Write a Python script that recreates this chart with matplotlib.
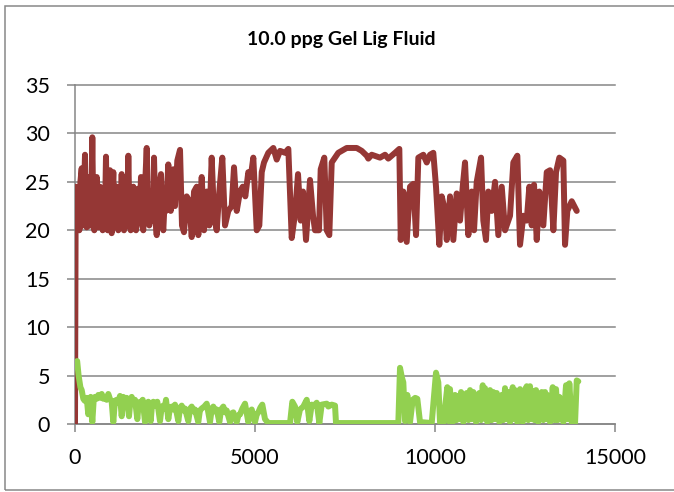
import matplotlib
matplotlib.use("Agg")
import matplotlib.pyplot as plt
from matplotlib.patches import Rectangle

plt.rcParams['font.family'] = ['Lato', 'DejaVu Sans']

title = "10.0 ppg Gel Lig Fluid"
x_ticks = [0, 5000, 10000, 15000]
y_ticks = [0, 5, 10, 15, 20, 25, 30, 35]

# red series (x, y)
red_x = [0, 20, 40, 60, 80, 100, 120, 150, 186, 215, 250, 278, 300, 325, 345, 369,
         390, 410, 436, 460, 481, 510, 536, 570, 603, 625, 647, 670, 694, 720, 745,
         769, 800, 830, 861, 885, 908, 940, 972, 995, 1019, 1040, 1064, 1090, 1111,
         1135, 1158, 1180, 1203, 1230, 1260, 1297, 1330, 1361, 1390, 1417, 1450, 1481,
         1515, 1547, 1585, 1620, 1660, 1695, 1725, 1758, 1795, 1833, 1865, 1897, 1940,
         1992, 2030, 2064, 2100, 2131, 2165, 2195, 2235, 2270, 2300, 2334, 2389, 2420,
         2453, 2490, 2528, 2592, 2659, 2731, 2778, 2842, 2917, 2972, 3028, 3103, 3175,
         3242, 3306, 3381, 3425, 3520, 3584, 3659, 3731, 3797, 3861, 3936, 4009, 4092,
         4167, 4259, 4353, 4417, 4492, 4584, 4659, 4731, 4814, 4881, 4953, 5048, 5120,
         5187, 5250, 5370, 5509, 5603, 5695, 5834, 5926, 6020, 6112, 6195, 6270, 6334,
         6417, 6528, 6612, 6667, 6778, 6825, 6925, 6992, 7064, 7131, 7314, 7548, 7825,
         7964, 8103, 8148, 8242, 8473, 8612, 8703, 8890, 9009, 9048, 9120, 9214, 9306,
         9398, 9473, 9537, 9676, 9770, 9862, 9953, 10028, 10120, 10187, 10279, 10326,
         10418, 10509, 10603, 10695, 10770, 10834, 10926, 11020, 11084, 11159, 11279,
         11342, 11417, 11481, 11576, 11668, 11759, 11854, 11945, 12084, 12176, 12287,
         12362, 12454, 12548, 12620, 12687, 12751, 12826, 12898, 13009, 13104, 13196,
         13288, 13362, 13454, 13565, 13612, 13676, 13798, 13937]
red_y = [0, 24.5, 20, 24, 20.2, 23.5, 20, 25, 26.4, 20.5, 24, 27.8, 21, 20.3, 24, 25.5,
         20.5, 23, 20.5, 24, 29.6, 21, 20, 24, 25.5, 20.5, 20.3, 23.5, 24.5, 20.5, 23,
         20, 24, 21, 27.6, 21, 20, 24, 26.2, 20.5, 19.7, 23.5, 26, 21, 20.5,
         24.5, 24.5, 20.5, 20, 23.5, 21, 25.8, 20.5, 20, 23, 24.8, 20.5, 27.7,
         21, 20, 23.5, 24.5, 20.5, 20, 23, 24.3, 21, 25.5, 20.5, 20, 24,
         28.5, 21, 20.5, 23.5, 24, 21, 27.5, 21, 19.5, 23, 24.5, 25.8, 21,
         20, 23, 22, 26.8, 22, 26.3, 22.5, 27.2, 28.3, 20.5, 19.8, 23.5, 23,
         19.3, 24, 24.5, 19.5, 25.5, 20, 24, 20.5, 27.5, 21.5, 20, 24, 27.5,
         20.5, 22, 22.5, 26.5, 22, 24, 24.5, 23.5, 26, 25.5, 27.5, 20, 20.5,
         26, 27, 28, 28.5, 27.3, 28.2, 28, 28.4, 19.2, 21.7, 25.8, 21, 24,
         19, 25.2, 21.5, 20, 20, 26.3, 27.5, 20, 19.5, 27, 28, 28.5, 28.5,
         28.2, 27.7, 27.4, 27.8, 27.5, 27.8, 27.4, 28, 28.4, 19, 24, 18.8, 24.5,
         24.8, 19.5, 27.5, 27.8, 27, 27.8, 28, 24.5, 18.5, 23.5, 22, 19,
         23.5, 19, 23.8, 21, 24.5, 27, 19.5, 24, 20, 25, 27.5,
         21, 19, 24, 22, 25, 19.5, 24.5, 20, 21.5, 27, 27.7,
         18.5, 21.5, 21, 24.5, 20.5, 24.7, 19, 24, 20.5, 26, 26.2,
         20, 26, 27.5, 27.2, 18.5, 22, 23, 22]

# green series (x, y)
green_x = [60, 100, 150, 186, 231, 270, 325, 369, 400, 436, 481, 520, 556, 600, 647, 700,
           742, 790, 833, 880, 925, 970, 1019, 1064, 1110, 1158, 1200, 1250, 1297, 1342,
           1390, 1436, 1500, 1540, 1575, 1620, 1667, 1731, 1770, 1806, 1845, 1881, 1945,
           1990, 2036, 2103, 2140, 2175, 2230, 2286, 2361, 2410, 2453, 2490, 2528, 2592,
           2640, 2686, 2730, 2778, 2870, 2920, 2964, 3010, 3056, 3147, 3200, 3242, 3290,
           3334, 3425, 3470, 3520, 3590, 3659, 3750, 3800, 3842, 3890, 3936, 4009, 4060,
           4120, 4170, 4214, 4306, 4350, 4398, 4492, 4540, 4584, 4650, 4723, 4814, 4860,
           4909, 5000, 5050, 5092, 5150, 5203, 5278, 5370, 5973, 6037, 6112, 6175, 6250,
           6342, 6437, 6509, 6575, 6640, 6714, 6787, 6853, 6992, 7037, 7131, 7223, 7250,
           8981, 9028, 9080, 9120, 9167, 9231, 9306, 9381, 9450, 9509, 9584, 9909, 10028,
           10092, 10139, 10231, 10342, 10380, 10417, 10455, 10492, 10556, 10600, 10648,
           10690, 10723, 10787, 10830, 10881, 10930, 10973, 11020, 11065, 11140, 11190,
           11231, 11280, 11326, 11360, 11389, 11453, 11490, 11529, 11575, 11620, 11670,
           11715, 11787, 11853, 11900, 11945, 11990, 12037, 12084, 12159, 12190, 12223,
           12287, 12362, 12437, 12500, 12548, 12590, 12640, 12680, 12715, 12760, 12806,
           12870, 12920, 12965, 13010, 13057, 13090, 13120, 13196, 13270, 13320, 13362,
           13410, 13454, 13490, 13520, 13565, 13640, 13690, 13731, 13798, 13890, 13937,
           13981]
green_y = [6.5, 5.0, 3.8, 3.5, 2.6, 2.4, 2.7, 1.0, 2.6, 2.8, 0.2, 2.5, 2.8, 2.6, 3.0, 2.7,
           3.1, 2.6, 2.8, 2.5, 3.1, 2.6, 2.3, 0.2, 2.4, 2.5, 2.2, 2.9, 0.8, 2.8,
           2.2, 2.7, 0.8, 2.4, 2.8, 2.2, 2.5, 0.5, 2.1, 2.3, 1.8, 2.5, 0.2,
           2.0, 2.3, 0.3, 2.0, 2.3, 1.9, 2.3, 0.3, 1.8, 1.9, 1.6, 2.5, 0.5,
           1.7, 1.8, 1.5, 2.0, 0.3, 1.7, 1.9, 1.4, 1.6, 0.3, 1.6, 1.8, 1.3,
           1.5, 0.2, 1.4, 1.6, 1.8, 2.1, 0.2, 1.6, 1.8, 1.3, 1.5, 0.2, 1.5,
           1.8, 1.2, 1.4, 0.2, 1.1, 1.2, 0.2, 0.9, 1.0, 1.6, 2.1, 0.2, 1.3,
           1.5, 0.2, 1.0, 1.2, 1.7, 2.0, 0.5, 0.1, 0.1, 2.3, 1.8, 0.2, 1.5,
           1.8, 2.5, 0.3, 2.0, 1.9, 2.2, 0.1, 2.0, 2.1, 1.8, 2.0, 1.9, 0.1,
           0.1, 5.8, 4.8, 4.3, 0.3, 3.0, 0.2, 2.5, 2.7, 2.6, 0.2, 0.1, 5.3,
           4.3, 0.2, 0.1, 3.8, 0.3, 3.6, 0.5, 0.2, 3.0, 0.4, 2.9,
           0.5, 3.3, 0.2, 3.0, 3.2, 0.4, 3.5, 0.5, 3.3, 0.2, 3.0,
           3.2, 0.4, 4.0, 0.6, 3.7, 0.2, 3.2, 3.5, 0.4, 3.3, 0.5,
           3.2, 0.2, 3.0, 0.4, 3.7, 0.5, 3.3, 0.2, 3.8, 0.5, 3.5,
           0.2, 3.6, 0.2, 3.5, 3.9, 0.4, 3.9, 0.5, 3.4, 0.4, 3.5,
           0.2, 3.1, 3.3, 0.4, 3.3, 0.5, 3.0, 0.2, 3.8, 0.4, 3.6,
           0.4, 2.8, 0.5, 2.6, 0.2, 4.0, 0.5, 4.2, 0.2, 0.1, 4.5,
           4.4]

fig = plt.figure(figsize=(6.74, 4.92), dpi=100)
ax = fig.add_axes([75/674, 68/492, 540/674, 339/492])

ax.plot(red_x, red_y, color='#953735', lw=4.3, solid_joinstyle='round',
        solid_capstyle='round', zorder=3)
ax.plot(green_x, green_y, color='#92D050', lw=4.3, solid_joinstyle='round',
        solid_capstyle='round', zorder=3)

ax.set_xlim(0, 15000)
ax.set_ylim(0, 35)
ax.set_xticks(x_ticks)
ax.set_yticks(y_ticks)
ax.yaxis.grid(True, color='#868686', lw=1.1)
for gl in ax.get_ygridlines():
    gl.set_clip_on(False)
ax.set_axisbelow(True)

for s in ['top', 'right']:
    ax.spines[s].set_visible(False)
for s in ['left', 'bottom']:
    ax.spines[s].set_color('#868686')
    ax.spines[s].set_linewidth(1.1)

ax.tick_params(axis='both', colors='#868686', width=1.1, length=6,
               labelsize=15.5, labelcolor='black')
ax.tick_params(axis='x', pad=11)
ax.tick_params(axis='y', pad=12)

fig.text(341/674, 1 - 40/492, title, ha='center', va='center',
         fontsize=14, fontweight='bold')

fig.patches.append(Rectangle((5/674, 2/492), 1.0, 1 - 7.7/492, transform=fig.transFigure,
                             fill=False, edgecolor='#888888', lw=1.1))

fig.savefig('out.png', dpi=100)
